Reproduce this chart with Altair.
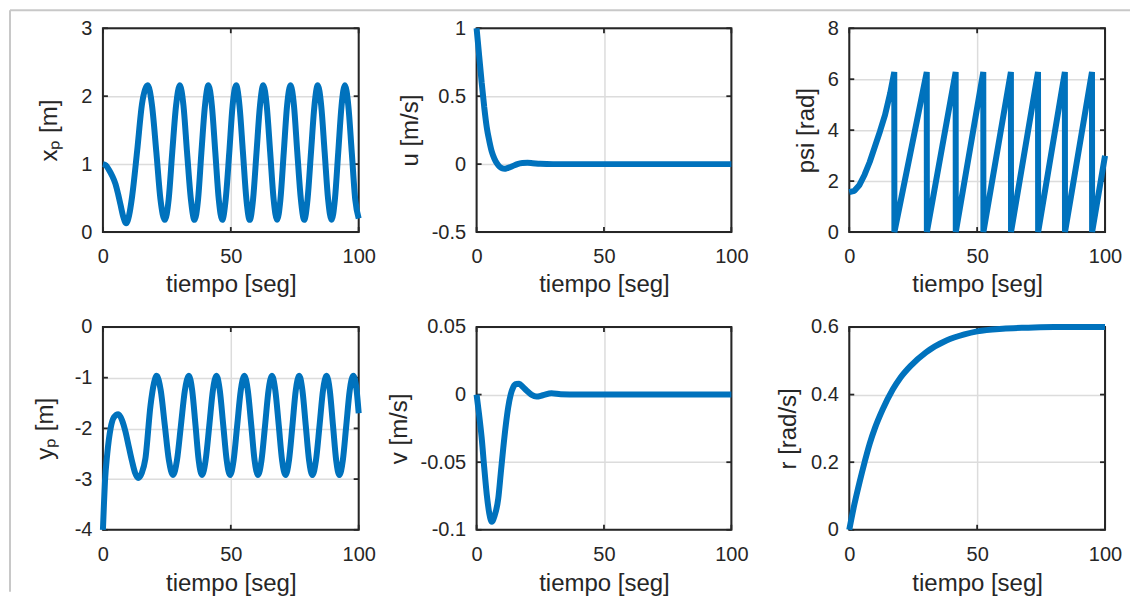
import altair as alt
import pandas as pd

# ---------------- data ----------------
xp_t = [0, 1.2, 2.3, 3.6, 4.9, 6.0, 6.9, 8.0, 9.1, 10.2, 11.4, 13.4, 15.3, 16.5, 17.55,
        19.2, 20.9, 22.5, 24.2,
        25.7, 27.1, 28.6, 30.05,
        31.5, 32.9, 34.4, 35.8,
        37.2, 38.5, 39.9, 41.25,
        42.6, 43.95, 45.3, 46.65,
        48.0, 49.4, 50.7, 52.1,
        53.4, 54.75, 56.1, 57.4,
        58.7, 60.05, 61.4, 62.7,
        64.05, 65.4, 66.75, 68.1,
        69.4, 70.7, 72.0, 73.35,
        74.7, 76.0, 77.4, 78.7,
        80.0, 81.35, 82.7, 84.0,
        85.35, 86.7, 88.05, 89.4,
        90.7, 92.0, 93.3, 94.6,
        95.95, 97.3, 98.65, 100]
xp_v = [1.00, 0.98, 0.92, 0.83, 0.71, 0.55, 0.40, 0.22, 0.13, 0.24, 0.52, 1.20, 1.89, 2.10, 2.16,
        1.86, 1.17, 0.48, 0.18,
        0.48, 1.17, 1.86, 2.16,
        1.86, 1.17, 0.48, 0.18,
        0.48, 1.17, 1.86, 2.16,
        1.86, 1.17, 0.48, 0.18,
        0.48, 1.17, 1.86, 2.16,
        1.86, 1.17, 0.48, 0.18,
        0.48, 1.17, 1.86, 2.16,
        1.86, 1.17, 0.48, 0.18,
        0.48, 1.17, 1.86, 2.16,
        1.86, 1.17, 0.48, 0.18,
        0.48, 1.17, 1.86, 2.16,
        1.86, 1.17, 0.48, 0.18,
        0.48, 1.17, 1.86, 2.16,
        1.86, 1.17, 0.48, 0.20]

u_t = [0, 1, 2, 3, 4, 5, 6, 7, 8, 9, 10, 11, 12, 14, 16, 18, 20, 22, 25, 30, 100]
u_v = [1.0, 0.8, 0.6, 0.42, 0.27, 0.17, 0.09, 0.04, 0.005, -0.018, -0.03, -0.034, -0.03,
       -0.016, 0.0, 0.008, 0.01, 0.007, 0.002, 0.0, 0.0]

psi_t = [0, 2, 4, 6, 8, 10, 12, 14, 16, 17.6, 17.65, 30.3, 30.35, 41.6, 41.65, 52.4, 52.45,
         63.2, 63.25, 73.8, 73.85, 84.3, 84.35, 94.9, 94.95, 100]
psi_v = [1.57, 1.62, 1.85, 2.25, 2.75, 3.35, 3.95, 4.6, 5.45, 6.28, 0, 6.28, 0, 6.28, 0, 6.28, 0,
         6.28, 0, 6.28, 0, 6.28, 0, 6.28, 0, 3.0]

yp_t = [0, 0.4, 0.8, 1.7, 3.0, 4.3, 6.0, 7.5, 8.8, 10.2, 11.4, 12.6, 13.8, 15.2, 16.6, 18.6, 20.0, 21.0,
        22.6, 24.2, 25.8, 27.4,
        28.95, 30.5, 32.05, 33.6,
        34.9, 36.2, 37.45, 38.75,
        40.15, 41.6, 43.0, 44.4,
        45.7, 47.05, 48.4, 49.7,
        51.1, 52.5, 53.9, 55.3,
        56.65, 58.0, 59.3, 60.65,
        62.0, 63.4, 64.75, 66.1,
        67.4, 68.75, 70.05, 71.4,
        72.75, 74.1, 75.4, 76.75,
        78.0, 79.3, 80.6, 81.9,
        83.3, 84.7, 86.05, 87.45,
        88.7, 89.95, 91.2, 92.45,
        93.8, 95.15, 96.5, 97.85,
        99.2, 100]
yp_v = [-4.0, -3.5, -3.05, -2.5, -2.0, -1.78, -1.72, -1.84, -2.06, -2.38, -2.65, -2.88, -2.98, -2.88,
        -2.6, -1.55, -1.1, -0.96,
        -1.25, -1.94, -2.63, -2.92,
        -2.63, -1.94, -1.25, -0.96,
        -1.25, -1.94, -2.63, -2.92,
        -2.63, -1.94, -1.25, -0.96,
        -1.25, -1.94, -2.63, -2.92,
        -2.63, -1.94, -1.25, -0.96,
        -1.25, -1.94, -2.63, -2.92,
        -2.63, -1.94, -1.25, -0.96,
        -1.25, -1.94, -2.63, -2.92,
        -2.63, -1.94, -1.25, -0.96,
        -1.25, -1.94, -2.63, -2.92,
        -2.63, -1.94, -1.25, -0.96,
        -1.25, -1.94, -2.63, -2.92,
        -2.63, -1.94, -1.25, -0.96,
        -1.25, -1.7]

v_t = [0, 1, 2, 3, 4, 5, 6, 7, 8.5, 9.5, 10.5, 11.5, 12.4, 13.4, 14.4, 15.5, 16.7, 18, 19.6,
       21.5, 23.5, 26, 29.4, 33, 40, 100]
v_v = [0, -0.015, -0.032, -0.054, -0.074, -0.088, -0.094, -0.09, -0.077, -0.058, -0.039, -0.022,
       -0.0095, 0.0, 0.0055, 0.0078, 0.008, 0.006, 0.003, 0.0, -0.0015, -0.0005, 0.001, 0.0003,
       0.0, 0.0]

r_t = [0, 2, 4, 6, 8, 10, 13, 17, 20, 24, 30, 38, 45, 50, 60, 70, 80, 100]
r_v = [0, 0.075, 0.14, 0.2, 0.255, 0.3, 0.355, 0.415, 0.45, 0.485, 0.525, 0.56, 0.578, 0.587,
       0.595, 0.598, 0.6, 0.6]

x_ticks = [0, 50, 100]
xp_ticks = [0, 1, 2, 3]
u_ticks = [-0.5, 0, 0.5, 1]
psi_ticks = [0, 2, 4, 6, 8]
yp_ticks = [-4, -3, -2, -1, 0]
v_ticks = [-0.1, -0.05, 0, 0.05]
r_ticks = [0, 0.2, 0.4, 0.6]

x_title = "tiempo [seg]"
y_titles = ["xₚ [m]", "u [m/s]", "psi [rad]", "yₚ [m]", "v [m/s]", "r [rad/s]"]

# ---------------- style ----------------
BLUE = "#0072BD"
DARK = "#262626"
GRIDC = "#dcdcdc"
FRAME = "#c8c8c8"
FONT = "Liberation Sans, Arial, Helvetica, sans-serif"
LABEL_EXPR = "datum.value < 0 ? '-' + format(-datum.value, '~g') : format(datum.value, '~g')"

one = pd.DataFrame({"k": [0]})


def panel(t, v, ticks, ytitle, interp, w, h, y_tp, x_lp, x_tp, frame=False):
    xs = alt.Scale(domain=[0, 100], nice=False, zero=False)
    ys = alt.Scale(domain=[ticks[0], ticks[-1]], nice=False, zero=False)
    xa = alt.Axis(values=x_ticks, title=x_title, labelPadding=x_lp, titlePadding=x_tp,
                  labelFlush=False, grid=True, domain=False, ticks=False)
    ya = alt.Axis(values=ticks, title=ytitle, labelPadding=11, titlePadding=y_tp,
                  labelExpr=LABEL_EXPR, labelFlush=False, grid=True, domain=False, ticks=False)
    X = alt.X("t:Q", scale=xs, axis=xa)
    Y = alt.Y("v:Q", scale=ys, axis=ya)

    border = alt.Chart(one).mark_rect(fillOpacity=0, stroke=DARK, strokeWidth=2).encode(
        x=alt.value(0), x2=alt.value(w), y=alt.value(0), y2=alt.value(h))
    ydf = pd.DataFrame({"v": ticks})
    xdf = pd.DataFrame({"t": x_ticks})
    tl = alt.Chart(ydf).mark_rule(color=DARK, strokeWidth=1.8).encode(
        y=Y, x=alt.value(0), x2=alt.value(5))
    tr = alt.Chart(ydf).mark_rule(color=DARK, strokeWidth=1.8).encode(
        y=Y, x=alt.value(w - 5), x2=alt.value(w))
    tb = alt.Chart(xdf).mark_rule(color=DARK, strokeWidth=1.8).encode(
        x=X, y=alt.value(h - 5), y2=alt.value(h))
    tt = alt.Chart(xdf).mark_rule(color=DARK, strokeWidth=1.8).encode(
        x=X, y=alt.value(0), y2=alt.value(5))
    line = alt.Chart(pd.DataFrame({"t": t, "v": v})).mark_line(
        color=BLUE, strokeWidth=6, interpolate=interp, strokeJoin="bevel").encode(x=X, y=Y)
    layers = [border, tl, tr, tb, tt, line]
    if frame:
        fl = alt.Chart(one).mark_rule(color=FRAME, strokeWidth=2).encode(
            x=alt.value(-93), y=alt.value(-18), y2=alt.value(564))
        ft = alt.Chart(one).mark_rule(color=FRAME, strokeWidth=2).encode(
            x=alt.value(-93), x2=alt.value(1028), y=alt.value(-18))
        layers = [fl, ft] + layers
    return alt.layer(*layers).properties(width=w, height=h)


p1 = panel(xp_t, xp_v, xp_ticks, y_titles[0], "monotone", 256, 204, 19, 14, 6, frame=True)
p2 = panel(u_t, u_v, u_ticks, y_titles[1], "monotone", 255, 204, 9, 14, 6)
p3 = panel(psi_t, psi_v, psi_ticks, y_titles[2], "linear", 256, 204, 9, 14, 6)
p4 = panel(yp_t, yp_v, yp_ticks, y_titles[3], "monotone", 256, 203, 17, 15, 7)
p5 = panel(v_t, v_v, v_ticks, y_titles[4], "monotone", 255, 203, 9, 15, 7)
p6 = panel(r_t, r_v, r_ticks, y_titles[5], "monotone", 256, 203, 10, 15, 7)

chart = alt.concat(p1, p2, p3, p4, p5, p6, columns=3,
                   spacing={"row": 95, "column": 118}, bounds="flush").properties(
    padding={"left": 0, "top": 0, "right": 0, "bottom": 0}
).configure(font=FONT).configure_axis(
    labelFont=FONT, titleFont=FONT, labelFontSize=20, titleFontSize=24,
    labelColor=DARK, titleColor=DARK, titleFontWeight="normal",
    gridColor=GRIDC, gridWidth=1.5
).configure_view(stroke="transparent")

chart.save("out.html", embed_options={"renderer": "svg", "actions": False})
